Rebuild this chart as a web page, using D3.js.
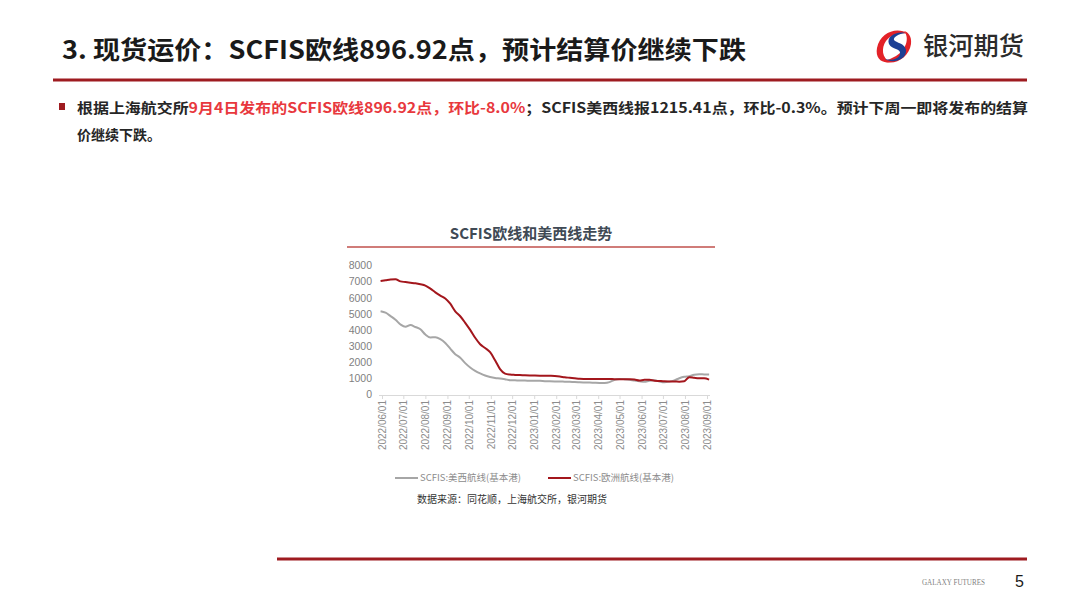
<!DOCTYPE html>
<html>
<head>
<meta charset="utf-8">
<script src="https://cdn.jsdelivr.net/npm/d3@7.9.0/dist/d3.min.js"></script>
<style>
  html, body { margin: 0; padding: 0; background: #fff; }
  svg { display: block; font-family: "Noto Sans CJK SC", "Noto Sans", sans-serif; }
</style>
</head>
<body>
<svg id="page" width="1080" height="608"></svg>
<script>
// weekly SCFIS index, Monday publication dates
const weeks = [
  '2022-05-30','2022-06-06','2022-06-13','2022-06-20','2022-06-27','2022-07-04','2022-07-11','2022-07-18',
  '2022-07-25','2022-08-01','2022-08-08','2022-08-15','2022-08-22','2022-08-29','2022-09-05','2022-09-12',
  '2022-09-19','2022-09-26','2022-10-03','2022-10-10','2022-10-17','2022-10-24','2022-10-31','2022-11-07',
  '2022-11-14','2022-11-21','2022-11-28','2022-12-05','2022-12-12','2022-12-19','2022-12-26','2023-01-02',
  '2023-01-09','2023-01-16','2023-01-23','2023-01-30','2023-02-06','2023-02-13','2023-02-20','2023-02-27',
  '2023-03-06','2023-03-13','2023-03-20','2023-03-27','2023-04-03','2023-04-10','2023-04-17','2023-04-24',
  '2023-05-01','2023-05-08','2023-05-15','2023-05-22','2023-05-29','2023-06-05','2023-06-12','2023-06-19',
  '2023-06-26','2023-07-03','2023-07-10','2023-07-17','2023-07-24','2023-07-31','2023-08-07','2023-08-14',
  '2023-08-21','2023-08-28','2023-09-04'
];

const usWest = [
  5150, 5060, 4850, 4620, 4330, 4180, 4290, 4170, 4030, 3700, 3520, 3540, 3420, 3180, 2820, 2480,
  2260, 1920, 1650, 1440, 1280, 1150, 1060, 1000, 970, 920, 860, 850, 840, 835, 830, 825,
  820, 800, 790, 780, 775, 770, 760, 740, 730, 720, 715, 700, 690, 690, 740, 880,
  940, 920, 890, 840, 800, 760, 830, 860, 780, 730, 770, 850, 980, 1070, 1110, 1200,
  1230, 1220, 1215.41
];

const europe = [
  7030, 7080, 7130, 7150, 7010, 6970, 6930, 6890, 6830, 6750, 6560, 6330, 6130, 5950, 5620, 5150,
  4840, 4430, 3990, 3500, 3100, 2860, 2600, 2100, 1550, 1270, 1210, 1190, 1180, 1160, 1150, 1145,
  1140, 1135, 1130, 1120, 1090, 1040, 1010, 980, 950, 940, 935, 935, 935, 930, 930, 925,
  925, 920, 915, 900, 840, 880, 880, 830, 810, 790, 780, 780, 770, 790, 1050, 1010,
  980, 975, 896.92
];

const yTicks = [0, 1000, 2000, 3000, 4000, 5000, 6000, 7000, 8000];
const monthTicks = [
  '2022/06/01','2022/07/01','2022/08/01','2022/09/01','2022/10/01','2022/11/01','2022/12/01','2023/01/01',
  '2023/02/01','2023/03/01','2023/04/01','2023/05/01','2023/06/01','2023/07/01','2023/08/01','2023/09/01'
];

const seriesNames = ['SCFIS:美西航线(基本港)', 'SCFIS:欧洲航线(基本港)'];
const seriesColors = ['#a6a6a6', '#a3161c'];

const parseDay = d3.timeParse('%Y-%m-%d');
const parseTick = d3.timeParse('%Y/%m/%d');
const dates = weeks.map(parseDay);
const tickDates = monthTicks.map(parseTick);

const svg = d3.select('#page');
const darkRed = '#9e1b20';

// ---------- page header ----------
svg.append('text')
  .attr('x', 62).attr('y', 59)
  .attr('font-size', 25).attr('font-weight', 700).attr('fill', '#1a1a1a')
  .attr('textLength', 684).attr('lengthAdjust', 'spacingAndGlyphs')
  .text('3. 现货运价：SCFIS欧线896.92点，预计结算价继续下跌');

svg.append('line')
  .attr('x1', 53).attr('x2', 1027).attr('y1', 80).attr('y2', 80)
  .attr('stroke', darkRed).attr('stroke-width', 3);

// logo: red swirl with blue S
const logo = svg.append('g').attr('transform', 'translate(894,46)');
logo.append('path')
  .attr('d', 'M14,-12 C4,-20 -14,-14 -17,2 C-19,12 -12,18 -4,16 C-12,12 -13,2 -8,-5 C-3,-12 8,-14 14,-12 Z')
  .attr('fill', '#e32228');
logo.append('path')
  .attr('d', 'M-10,15 C0,20 15,12 17,-2 C18,-10 14,-14 10,-15 C16,-8 12,4 2,10 C-2,12 -6,14 -10,15 Z')
  .attr('fill', '#e32228');
logo.append('path')
  .attr('d', 'M11,-13 C2,-15 -8,-9 -5,-2 C-2,4 7,2 6,8 C5,13 -3,15 -9,13 C-2,18 13,14 12,4 C11,-3 2,-3 0,-6 C-1,-9 5,-12 11,-13 Z')
  .attr('fill', '#1d3f94');
svg.append('text')
  .attr('x', 923).attr('y', 55)
  .attr('font-size', 25).attr('font-weight', 500).attr('fill', '#2b2b2b')
  .attr('textLength', 101).attr('lengthAdjust', 'spacingAndGlyphs')
  .text('银河期货');

// ---------- bullet text ----------
svg.append('rect')
  .attr('x', 59).attr('y', 103).attr('width', 6).attr('height', 7)
  .attr('fill', darkRed);

const line1 = svg.append('text')
  .attr('x', 77).attr('y', 113)
  .attr('font-size', 14).attr('font-weight', 700).attr('fill', '#262626')
  .attr('textLength', 951).attr('lengthAdjust', 'spacingAndGlyphs');
line1.append('tspan').text('根据上海航交所');
line1.append('tspan').attr('fill', '#e8383d').text('9月4日发布的SCFIS欧线896.92点，环比-8.0%');
line1.append('tspan').text('；SCFIS美西线报1215.41点，环比-0.3%。预计下周一即将发布的结算');

svg.append('text')
  .attr('x', 77).attr('y', 140)
  .attr('font-size', 14).attr('font-weight', 700).attr('fill', '#262626')
  .text('价继续下跌。');

// ---------- chart ----------
svg.append('text')
  .attr('x', 531).attr('y', 239)
  .attr('text-anchor', 'middle')
  .attr('font-size', 15).attr('font-weight', 700).attr('fill', '#404a55')
  .text('SCFIS欧线和美西线走势');

svg.append('line')
  .attr('x1', 347).attr('x2', 715).attr('y1', 247).attr('y2', 247)
  .attr('stroke', '#c0504d').attr('stroke-width', 1.5);

const x = d3.scaleTime()
  .domain([tickDates[0], tickDates[tickDates.length - 1]])
  .range([382, 707]);

const y = d3.scaleLinear()
  .domain([0, 8000])
  .range([394, 265.5]);

// y axis labels (no line)
const yAxis = svg.append('g')
  .attr('transform', 'translate(372,0)')
  .call(d3.axisLeft(y).tickValues(yTicks).tickSize(0).tickPadding(0).tickFormat(d3.format('d')));
yAxis.select('.domain').remove();
yAxis.selectAll('text')
  .attr('font-size', 10.5).attr('fill', '#7f7f7f')
  .attr('font-family', '"Liberation Sans", Arial, sans-serif');

// x axis
const xAxis = svg.append('g')
  .attr('transform', 'translate(0,395)')
  .call(d3.axisBottom(x).tickValues(tickDates).tickSize(4).tickFormat(d3.timeFormat('%Y/%m/%d')));
xAxis.select('.domain').attr('stroke', '#d9d9d9').attr('d', 'M379,0.5H710');
xAxis.selectAll('.tick line').attr('stroke', '#d9d9d9');
xAxis.selectAll('.tick text')
  .attr('font-size', 10).attr('fill', '#8c8c8c')
  .attr('font-family', '"Liberation Sans", Arial, sans-serif')
  .attr('transform', 'rotate(-90)')
  .attr('text-anchor', 'end')
  .attr('x', -5).attr('y', 0).attr('dy', '0.35em');

// lines
const lineGen = d3.line()
  .x((d, i) => x(dates[i]))
  .y(d => y(d))
  .curve(d3.curveMonotoneX);

[usWest, europe].forEach((vals, i) => {
  svg.append('path')
    .datum(vals)
    .attr('d', lineGen)
    .attr('fill', 'none')
    .attr('stroke', seriesColors[i])
    .attr('stroke-width', 2)
    .attr('stroke-linejoin', 'round');
});

// legend
const legendX = [395, 548];
seriesNames.forEach((name, i) => {
  const g = svg.append('g').attr('transform', `translate(${legendX[i]},478)`);
  g.append('line')
    .attr('x1', 0).attr('x2', 23).attr('y1', 0).attr('y2', 0)
    .attr('stroke', seriesColors[i]).attr('stroke-width', 2);
  g.append('text')
    .attr('x', 25).attr('y', 0).attr('dy', '0.35em')
    .attr('font-size', 9.5).attr('fill', '#8c8c8c')
    .text(name);
});

svg.append('text')
  .attr('x', 417).attr('y', 503)
  .attr('font-size', 10).attr('fill', '#333')
  .text('数据来源：同花顺，上海航交所，银河期货');

// ---------- footer ----------
svg.append('line')
  .attr('x1', 277).attr('x2', 1027).attr('y1', 559).attr('y2', 559)
  .attr('stroke', darkRed).attr('stroke-width', 3);

svg.append('text')
  .attr('x', 922).attr('y', 585)
  .attr('font-size', 7.5).attr('fill', '#7f7f7f')
  .attr('font-family', '"Liberation Serif", serif')
  .attr('textLength', 63).attr('lengthAdjust', 'spacingAndGlyphs')
  .text('GALAXY FUTURES');

svg.append('text')
  .attr('x', 1015).attr('y', 587)
  .attr('font-size', 16).attr('font-weight', 500).attr('fill', '#1a1a1a')
  .attr('font-family', '"Liberation Sans", Arial, sans-serif')
  .text('5');
</script>
</body>
</html>
